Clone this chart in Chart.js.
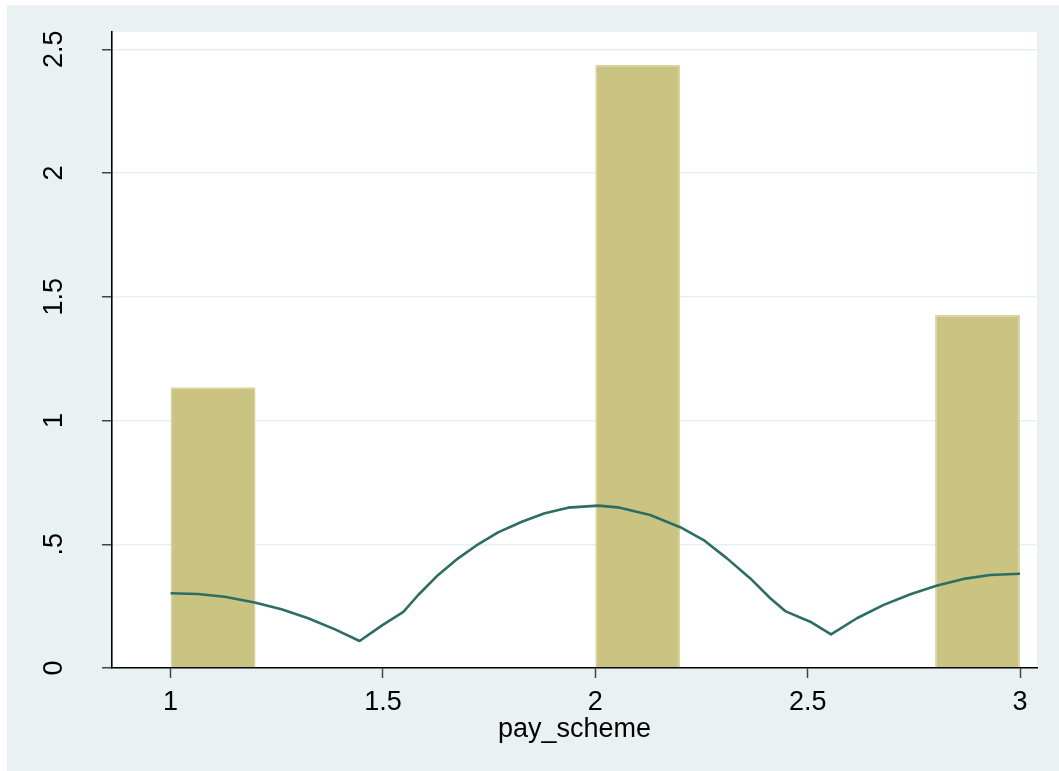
<!DOCTYPE html>
<html>
<head>
<meta charset="utf-8">
<script src="https://cdn.jsdelivr.net/npm/chart.js@4"></script>
<style>
html,body{margin:0;padding:0;background:#fff;}
canvas{display:block;}
</style>
</head>
<body>
<canvas id="c" width="1059" height="771"></canvas>
<script>
// ---- data ----
const binCenters = [1.1, 2.1, 2.9];
const binHeights = [1.134, 2.438, 1.426];
const binWidth = 0.2;
const kdX = [1.000, 1.064, 1.127, 1.198, 1.261, 1.324, 1.387, 1.445, 1.497, 1.548, 1.583, 1.630, 1.677, 1.724, 1.771, 1.827, 1.881, 1.936, 2.007, 2.058, 2.129, 2.200, 2.255, 2.310, 2.365, 2.412, 2.447, 2.506, 2.555, 2.616, 2.679, 2.742, 2.805, 2.867, 2.930, 3.000];
const kdY = [0.302, 0.299, 0.288, 0.265, 0.237, 0.201, 0.156, 0.109, 0.171, 0.227, 0.295, 0.376, 0.443, 0.500, 0.548, 0.591, 0.625, 0.648, 0.656, 0.648, 0.618, 0.569, 0.517, 0.443, 0.362, 0.282, 0.230, 0.187, 0.136, 0.201, 0.255, 0.298, 0.333, 0.360, 0.376, 0.381];
const xTickValues = [1, 1.5, 2, 2.5, 3];
const xTickLabels = ['1', '1.5', '2', '2.5', '3'];
const yTickValues = [0, 0.5, 1, 1.5, 2, 2.5];
const yTickLabels = ['0', '.5', '1', '1.5', '2', '2.5'];
const xTitle = 'pay_scheme';

const FONT = "'Liberation Sans', Arial, Helvetica, sans-serif";
const tickStep = xTickValues[1] - xTickValues[0];

const bgPlugin = {
  id: 'bg',
  beforeDraw(chart) {
    const ctx = chart.ctx, a = chart.chartArea;
    ctx.save();
    ctx.fillStyle = '#ffffff';
    ctx.fillRect(0, 0, chart.width, chart.height);
    ctx.fillStyle = '#EAF1F3';
    ctx.fillRect(7, 5, chart.width - 7, chart.height - 5);
    ctx.fillStyle = '#ffffff';
    ctx.fillRect(a.left, a.top, a.right - a.left, a.bottom - a.top);
    ctx.restore();
  }
};

new Chart(document.getElementById('c'), {
  type: 'bar',
  data: {
    datasets: [
      {
        type: 'line',
        order: 0,
        data: kdX.map((x, i) => ({x: x, y: kdY[i]})),
        borderColor: '#2C6E64',
        borderWidth: 2.6,
        pointRadius: 0,
        tension: 0,
        borderJoinStyle: 'round',
        fill: false
      },
      {
        type: 'bar',
        order: 1,
        data: binCenters.map((x, i) => ({x: x, y: binHeights[i]})),
        backgroundColor: '#CBC382',
        borderColor: '#D9D3A3',
        borderWidth: 1.5,
        borderSkipped: 'bottom',
        categoryPercentage: 1,
        barPercentage: binWidth / tickStep
      }
    ]
  },
  options: {
    responsive: false,
    animation: false,
    devicePixelRatio: 1,
    layout: {padding: {left: 0, top: 32, right: 22, bottom: 0}},
    plugins: {legend: {display: false}, tooltip: {enabled: false}},
    scales: {
      x: {
        type: 'linear',
        min: 0.862,
        max: 3.040,
        offset: false,
        afterBuildTicks(s) { s.ticks = xTickValues.map(v => ({value: v})); },
        afterFit(s) { s.height = 103; s.paddingLeft = 0; s.paddingRight = 0; },
        grid: {offset: false, color: 'transparent', drawTicks: true, tickLength: 10, tickColor: '#444', tickWidth: 1.5},
        border: {display: true, color: '#000', width: 1.6},
        ticks: {
          autoSkip: false, maxRotation: 0, minRotation: 0, padding: 8,
          color: '#000', font: {family: FONT, size: 27},
          callback: (v) => xTickLabels[xTickValues.indexOf(v)]
        },
        title: {display: true, text: xTitle, color: '#000', font: {family: FONT, size: 27}, padding: {top: 0, bottom: 25}}
      },
      y: {
        type: 'linear',
        min: 0,
        max: 2.570,
        afterBuildTicks(s) { s.ticks = yTickValues.map(v => ({value: v})); },
        afterFit(s) { s.width = 112; s.paddingTop = 0; s.paddingBottom = 0; },
        grid: {
          color: (c) => (c.tick && c.tick.value === 0) ? 'transparent' : '#E6EFF1',
          lineWidth: 1.5, drawTicks: true, tickLength: 10, tickColor: '#444', tickWidth: 1.5
        },
        border: {display: true, color: '#000', width: 1.6},
        ticks: {
          autoSkip: false, minRotation: 90, maxRotation: 90, crossAlign: 'center', padding: 29,
          color: '#000', font: {family: FONT, size: 27},
          callback: (v) => yTickLabels[yTickValues.indexOf(v)]
        }
      }
    }
  },
  plugins: [bgPlugin]
});
</script>
</body>
</html>
